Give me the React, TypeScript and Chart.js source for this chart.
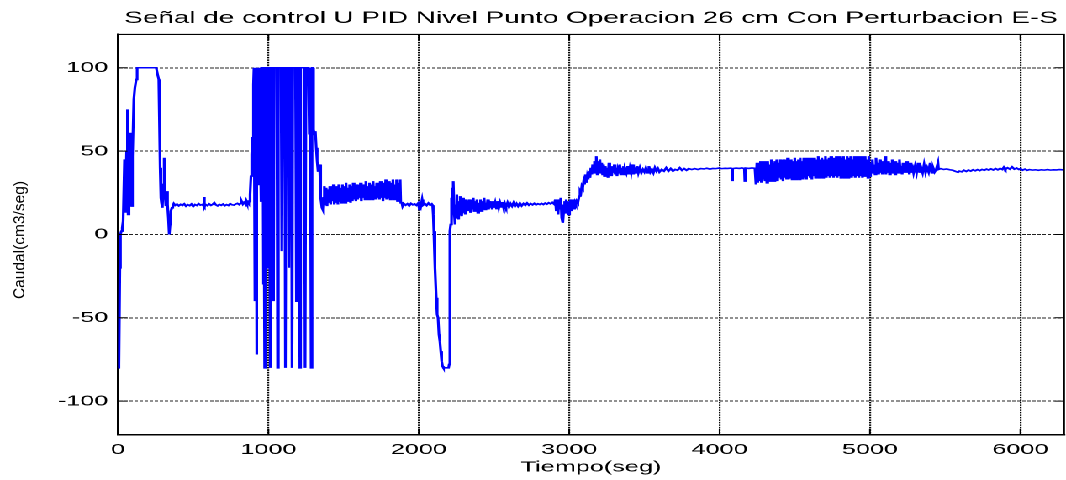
import { useEffect, useRef } from "react";
import { Chart, registerables } from "chart.js";

Chart.register(...registerables);

// ---------- text ----------
const CHART_TITLE = "Señal de control U PID Nivel Punto Operacion 26 cm Con Perturbacion E-S";
const X_TITLE = "Tiempo(seg)";
const Y_TITLE = "Caudal(cm3/seg)";

// ---------- axes ----------
const X_TICKS = [0, 1000, 2000, 3000, 4000, 5000, 6000];
const Y_TICKS = [-100, -50, 0, 50, 100];
const X_MIN = 0;
const X_MAX = 6290;
const Y_MIN = -120;
const Y_MAX = 120;

// ---------- data: [time (s), control signal U (cm3/seg)] ----------
const startUp: [number, number][] = [
  [0, -80], [4, -80], [8, -78], [12, -20], [16, 0], [22, 2], [28, 4], [34, 8], [43, 45], [47, 35], [51, 13],
  [57, 50], [61, 75], [64, 40], [67, 12], [71, 35], [75, 55], [79, 61], [82, 40], [86, 21], [91, 17], [94, 25],
  [98, 47], [105, 81], [112, 88], [121, 93], [127, 100], [254, 100], [263, 96], [271, 93], [275, 70], [280, 40],
  [285, 22], [289, 19], [293, 16], [297, 17], [301, 30], [305, 38], [309, 46], [312, 25], [316, 17], [320, 20],
  [324, 24], [327, 26], [331, 18], [335, 10], [339, 4], [342, 0], [346, 6], [350, 11], [353, 14], [358, 16],
  [364, 17], [371, 18.5],
];

const steadyA: [number, number][] = [
  [380, 17.5], [392, 18.2], [404, 17.2], [416, 18], [428, 17.4], [440, 18.3], [452, 17], [464, 17.8], [476, 17.3],
  [488, 18.2], [500, 16.8], [512, 17.9], [524, 17.4], [536, 18.4], [548, 17.6], [560, 18], [568, 17.2], [572, 22.5],
  [576, 16.5], [582, 18], [594, 17.3], [606, 18.3], [618, 17.5], [630, 18.1], [640, 19], [650, 17.8], [662, 17.2],
  [674, 18], [686, 17.5], [698, 18.2], [710, 17.3], [722, 17.9], [734, 17.4], [746, 18.4], [758, 17.8], [770, 17.6],
  [782, 18.2], [794, 18.6], [806, 17.9], [816, 18.8], [822, 19.8], [830, 18.2], [838, 19.2], [846, 18.4],
  [852, 20.2], [858, 18.7], [864, 19.5], [869, 18.8], [873, 20],
];

const saturation: [number, number][] = [
  [878, 24], [884, 35], [889, 48], [894, 58], [899, 65], [902, 90], [904, 100], [907, -10], [910, 100], [914, -40],
  [917, 100], [921, -72], [924, 100], [928, 30], [931, 100], [935, 60], [938, 100], [948, 100], [951, 20], [954, 100],
  [962, 100], [966, -30], [969, 100], [975, -80], [979, 100], [990, 100], [994, -20], [998, 100], [1006, 100],
  [1010, -80], [1014, 100], [1030, 100], [1034, -40], [1038, 100], [1056, 100], [1061, -80], [1066, 100],
  [1084, 100], [1089, -10], [1094, 100], [1108, 100], [1113, -80], [1118, 100], [1132, 100], [1136, -20],
  [1141, 100], [1152, 100], [1157, -80], [1162, 100], [1180, 100], [1186, -40], [1191, 100], [1204, 100],
  [1209, -80], [1214, 100], [1238, 100], [1244, -80], [1250, 100], [1266, 100], [1272, 60], [1278, 100],
  [1284, -80], [1290, 100], [1296, 100], [1300, 63], [1306, 60], [1312, 62], [1318, 52], [1324, 44], [1330, 38],
  [1336, 40], [1340, 42], [1345, 30], [1350, 22], [1356, 16], [1361, 15], [1366, 22],
];

const rippleA: [number, number][] = [
  [1372, 29], [1378, 18], [1384, 28], [1390, 17], [1396, 27], [1402, 19], [1408, 29], [1414, 18], [1420, 28],
  [1426, 20], [1432, 30], [1438, 18], [1444, 27], [1450, 19], [1456, 29], [1462, 18], [1468, 30], [1474, 20],
  [1480, 28], [1486, 19], [1492, 30], [1498, 21], [1504, 29], [1510, 19], [1516, 31], [1522, 20], [1528, 28],
  [1534, 21], [1540, 30], [1546, 19], [1552, 29], [1558, 20], [1564, 31], [1570, 21], [1576, 29], [1582, 20],
  [1588, 30], [1594, 21], [1600, 28], [1606, 22], [1612, 31], [1618, 20], [1624, 29], [1630, 22], [1636, 30],
  [1642, 21], [1648, 32], [1654, 22], [1660, 29], [1666, 21], [1672, 31], [1678, 22], [1684, 30], [1690, 21],
  [1696, 32], [1702, 22], [1708, 29], [1714, 21], [1720, 31], [1726, 22], [1732, 30], [1738, 21], [1744, 32],
  [1750, 22], [1756, 30], [1762, 20], [1768, 31], [1774, 22], [1780, 33], [1786, 21], [1792, 30], [1798, 22],
  [1804, 32], [1810, 21], [1816, 31], [1822, 22], [1828, 33], [1834, 21], [1840, 30], [1846, 22], [1852, 33],
  [1858, 20], [1864, 31], [1870, 21], [1876, 33], [1880, 19],
];

const steadyB: [number, number][] = [
  [1886, 19.5], [1892, 17], [1900, 18.5], [1912, 17.6], [1924, 18.4], [1936, 17.2], [1948, 18.6], [1960, 17.8],
  [1972, 18.3], [1984, 17.5], [1996, 18.8], [2004, 15], [2008, 19], [2014, 17.2], [2022, 21], [2028, 17.6],
  [2040, 18.5], [2052, 17.4], [2064, 18.8], [2076, 17.6], [2086, 18.3], [2092, 17.5],
];

const disturbance: [number, number][] = [
  [2096, 12], [2100, 2], [2105, -8], [2110, -20], [2116, -38], [2122, -48], [2128, -50], [2134, -60], [2140, -64],
  [2146, -70], [2152, -76], [2158, -79], [2164, -80], [2198, -80], [2202, -78], [2205, -30], [2208, 2], [2212, 6],
  [2216, 22], [2219, 8], [2223, 28], [2227, 12], [2231, 32], [2235, 14], [2239, 6], [2243, 18], [2247, 10],
  [2251, 24], [2255, 13], [2259, 20], [2263, 9], [2267, 19], [2271, 12], [2275, 23], [2279, 14], [2283, 21],
  [2287, 11], [2291, 19], [2295, 13], [2299, 22], [2303, 15], [2307, 20], [2311, 12], [2315, 21], [2319, 14],
];

const steadyC: [number, number][] = [
  [2326, 20], [2332, 14], [2338, 21], [2344, 13], [2350, 19], [2356, 15], [2362, 22], [2368, 14], [2374, 20],
  [2380, 15], [2386, 21], [2392, 13], [2398, 19], [2404, 16], [2410, 21], [2416, 14], [2422, 20], [2428, 16],
  [2434, 22], [2440, 15], [2446, 19], [2452, 16], [2458, 21], [2464, 15], [2470, 20], [2476, 16], [2482, 19],
  [2488, 15], [2494, 20], [2500, 16], [2508, 19], [2516, 15.5], [2524, 20], [2532, 16], [2540, 19], [2548, 16.5],
  [2556, 19.5], [2564, 16], [2572, 18.5], [2580, 16.5], [2590, 19], [2600, 16.5], [2610, 18.5], [2620, 17],
  [2630, 19], [2640, 17], [2650, 18.5], [2660, 17], [2672, 18.8], [2684, 17.2], [2696, 18.5], [2708, 17.5],
  [2720, 18.8], [2732, 17.6], [2744, 18.5], [2756, 17.8], [2768, 18.6], [2780, 17.8], [2792, 18.4], [2804, 18],
  [2816, 18.6], [2828, 18], [2840, 18.8], [2852, 18.2], [2864, 19], [2876, 18.4], [2888, 19.2], [2900, 18.2],
  [2908, 21], [2914, 14], [2920, 20], [2926, 12], [2932, 21], [2938, 15], [2944, 22], [2950, 10], [2955, 18],
  [2960, 7], [2965, 16], [2970, 20], [2975, 13], [2980, 21], [2985, 15], [2990, 20], [2995, 12], [3000, 19],
  [3005, 16], [3010, 21], [3015, 14], [3020, 20], [3025, 17], [3030, 21], [3035, 15], [3040, 19], [3045, 18],
  [3050, 20], [3055, 21],
];

const stepUp: [number, number][] = [
  [3060, 19], [3066, 23], [3072, 26], [3078, 25], [3084, 29], [3090, 28], [3096, 32], [3102, 30], [3108, 36],
  [3114, 31], [3120, 35], [3126, 33], [3132, 38], [3138, 34], [3144, 40], [3150, 36], [3156, 42], [3162, 37],
  [3168, 44], [3174, 38], [3180, 47], [3186, 36], [3192, 44], [3198, 38], [3204, 45], [3210, 37], [3216, 43],
  [3222, 36], [3228, 42], [3234, 35], [3240, 41], [3246, 36], [3252, 40], [3258, 34], [3264, 43], [3270, 36],
  [3276, 41], [3282, 35], [3288, 40], [3294, 37], [3300, 42], [3306, 36], [3312, 40], [3318, 35], [3324, 39],
  [3330, 37], [3336, 42], [3342, 36], [3348, 40], [3354, 37], [3360, 41], [3366, 36], [3372, 39], [3380, 37],
  [3388, 41], [3396, 36], [3404, 40], [3412, 37], [3420, 42], [3428, 36], [3436, 39], [3444, 37], [3452, 41],
  [3460, 37], [3470, 40], [3480, 37], [3490, 39], [3500, 37.5], [3510, 40], [3520, 37], [3530, 41], [3540, 37.5],
  [3550, 39], [3560, 37], [3570, 40], [3580, 38], [3590, 39.5], [3600, 37.5], [3615, 39], [3630, 38], [3645, 40],
  [3660, 38], [3675, 39.5], [3690, 38], [3705, 39], [3720, 38.5], [3735, 40], [3750, 38.5], [3765, 39.5],
  [3780, 38.5], [3795, 39.5],
];

const steadyD: [number, number][] = [
  [3815, 39], [3835, 39.5], [3855, 39], [3875, 39.5], [3895, 39.3], [3915, 39.7], [3935, 39.2], [3955, 39.6],
  [3975, 39.5], [3995, 39.8], [4015, 39.5], [4035, 39.7], [4055, 39.6], [4075, 39.8], [4082, 39.5], [4085, 32],
  [4088, 39.5], [4110, 39.8], [4130, 39.6], [4150, 39.9], [4165, 39.5], [4168, 32], [4172, 38], [4175, 39.8],
  [4195, 39.6], [4215, 39.9], [4235, 39.7],
];

const rippleB: [number, number][] = [
  [4242, 30], [4248, 43], [4254, 31], [4260, 42], [4266, 32], [4272, 44], [4278, 31], [4284, 42], [4290, 33],
  [4296, 44], [4302, 32], [4308, 43], [4314, 31], [4320, 44], [4326, 33], [4332, 42], [4338, 32], [4344, 45],
  [4350, 33], [4356, 43], [4362, 32], [4368, 44], [4374, 33], [4380, 45], [4386, 32], [4392, 43], [4398, 34],
  [4404, 45], [4410, 33], [4416, 44], [4422, 32], [4428, 45], [4434, 34], [4440, 43], [4446, 33], [4452, 46],
  [4458, 33], [4464, 44], [4470, 34], [4476, 45], [4482, 33], [4488, 44], [4494, 34], [4500, 46], [4506, 33],
  [4512, 44], [4518, 34], [4524, 45], [4530, 33], [4536, 46], [4542, 34], [4548, 44], [4554, 33], [4560, 46],
  [4566, 34], [4572, 45], [4578, 33], [4584, 46], [4590, 35], [4596, 44], [4602, 34], [4608, 46], [4614, 33],
  [4620, 45], [4626, 35], [4632, 46], [4638, 34], [4644, 45], [4650, 35], [4656, 47], [4662, 34], [4668, 45],
  [4674, 35], [4680, 46], [4686, 34], [4692, 45], [4698, 35], [4704, 47], [4710, 34], [4716, 45], [4722, 35],
  [4728, 46], [4734, 34], [4740, 47], [4746, 35], [4752, 45], [4758, 34], [4764, 46], [4770, 35], [4776, 47],
  [4782, 34], [4788, 45], [4794, 35], [4800, 47], [4806, 34], [4812, 46], [4818, 35], [4824, 47], [4830, 34],
  [4836, 45], [4842, 35], [4848, 47], [4854, 34], [4860, 46], [4866, 35], [4872, 47], [4878, 34], [4884, 45],
  [4890, 35], [4896, 47], [4902, 34], [4908, 46], [4914, 35], [4920, 47], [4926, 34], [4932, 45], [4938, 35],
  [4944, 47], [4950, 34], [4956, 46], [4962, 35], [4968, 47], [4974, 35], [4980, 45], [4986, 34], [4992, 47],
  [4998, 35],
];

const rippleC: [number, number][] = [
  [5004, 43], [5010, 37], [5016, 45], [5022, 37], [5028, 42], [5034, 36], [5040, 46], [5046, 37], [5052, 43],
  [5058, 36], [5064, 45], [5070, 37], [5076, 42], [5082, 36], [5088, 44], [5094, 37], [5100, 47], [5106, 36],
  [5112, 42], [5118, 37], [5124, 44], [5130, 36], [5136, 43], [5142, 37], [5148, 45], [5154, 37], [5160, 42],
  [5166, 36], [5172, 44], [5178, 37], [5184, 43], [5190, 37], [5196, 45], [5202, 37], [5208, 41], [5214, 36],
  [5220, 43], [5226, 37], [5232, 42], [5238, 37], [5244, 44], [5250, 37], [5256, 41], [5262, 36], [5268, 43],
  [5274, 37], [5280, 42], [5290, 37], [5300, 41], [5310, 37], [5320, 43], [5330, 37], [5340, 40], [5350, 37],
  [5360, 42], [5370, 37], [5380, 40], [5390, 37.5], [5400, 43], [5410, 37], [5420, 40], [5430, 37.5], [5440, 39],
];

const tail: [number, number][] = [
  [5452, 43], [5456, 39], [5470, 39.5], [5490, 39], [5510, 39.3], [5530, 38.8], [5550, 38.5], [5570, 37.8],
  [5585, 37.3], [5595, 38], [5610, 37.6], [5625, 38.5], [5640, 37.8], [5655, 38.6], [5670, 38], [5685, 38.8],
  [5700, 38.2], [5715, 38.9], [5730, 38.3], [5745, 39], [5760, 38.5], [5775, 39.2], [5790, 38.6], [5805, 39.3],
  [5820, 38.7], [5835, 39.5], [5850, 38.8], [5865, 39.6], [5880, 39], [5890, 40.3], [5900, 39], [5915, 40],
  [5930, 39.2], [5945, 40.5], [5960, 39.2], [5975, 39.8], [5990, 39], [6000, 39.5], [6015, 38.6], [6030, 39.2],
  [6045, 38.5], [6060, 38.9], [6080, 38.6], [6100, 38.8], [6120, 38.5], [6140, 38.8], [6160, 38.6], [6180, 38.9],
  [6200, 38.6], [6220, 38.8], [6240, 38.7], [6260, 38.9], [6280, 38.8], [6290, 38.8],
];

const SEGMENTS = [startUp, steadyA, saturation, rippleA, steadyB, disturbance, steadyC, stepUp, steadyD, rippleB, rippleC, tail];

// ---------- layout (canvas is drawn narrow, then stretched horizontally like the original figure) ----------
const CANVAS_W = 634;
const CANVAS_H = 480;
const STRETCH = 1066 / CANVAS_W;
const FONT = '"Liberation Sans", Arial, Helvetica, sans-serif';

const framePlugin = {
  id: "matlabFrame",
  afterDraw(chart: any) {
    const { ctx, chartArea: a, scales } = chart;
    const xs = scales.x;
    const ys = scales.y;
    ctx.save();
    ctx.strokeStyle = "#000";
    ctx.lineWidth = 1.2;
    ctx.beginPath();
    ctx.moveTo(a.left, a.top);
    ctx.lineTo(a.right, a.top);
    ctx.lineTo(a.right, a.bottom);
    ctx.stroke();
    const tl = 5.6;
    ctx.lineWidth = 1;
    ctx.beginPath();
    for (const v of X_TICKS) {
      const px = xs.getPixelForValue(v);
      ctx.moveTo(px, a.bottom);
      ctx.lineTo(px, a.bottom - tl);
      ctx.moveTo(px, a.top);
      ctx.lineTo(px, a.top + tl);
    }
    for (const v of Y_TICKS) {
      const py = ys.getPixelForValue(v);
      ctx.moveTo(a.left, py);
      ctx.lineTo(a.left + tl, py);
      ctx.moveTo(a.right, py);
      ctx.lineTo(a.right - tl, py);
    }
    ctx.stroke();
    // vertical axis title, drawn un-stretched
    ctx.translate(20 / STRETCH, 240);
    ctx.rotate(-Math.PI / 2);
    ctx.scale(1, 1 / STRETCH);
    ctx.font = `15.5px ${FONT}`;
    ctx.fillStyle = "#000";
    ctx.textAlign = "center";
    ctx.textBaseline = "middle";
    ctx.fillText(Y_TITLE, 0, 0);
    ctx.restore();
  },
};

export default function App() {
  const canvasRef = useRef<HTMLCanvasElement | null>(null);

  useEffect(() => {
    const canvas = canvasRef.current;
    if (!canvas) return;
    const points = SEGMENTS.flat().map(([t, u]) => ({ x: t, y: u }));
    const chart = new Chart(canvas, {
      type: "line",
      data: {
        datasets: [
          {
            label: "U",
            data: points,
            borderColor: "#0000ff",
            borderWidth: 1.6,
            pointRadius: 0,
            tension: 0,
            fill: false,
          },
        ],
      },
      options: {
        animation: false,
        responsive: true,
        maintainAspectRatio: false,
        devicePixelRatio: 2,
        events: [],
        layout: { padding: { left: 0, right: 1.2, top: 0, bottom: 0 } },
        plugins: {
          legend: { display: false },
          tooltip: { enabled: false },
          title: {
            display: true,
            text: CHART_TITLE,
            fullSize: false,
            align: "center",
            color: "#000",
            font: { family: FONT, size: 16.6, weight: "normal" },
            padding: { top: 8.3, bottom: 6.2 },
          },
        },
        scales: {
          x: {
            type: "linear",
            min: X_MIN,
            max: X_MAX,
            afterBuildTicks: (s: any) => {
              s.ticks = X_TICKS.map((v) => ({ value: v }));
            },
            afterFit: (s: any) => {
              s.height = 45.5;
            },
            ticks: {
              autoSkip: false,
              maxRotation: 0,
              color: "#000",
              padding: 6.5,
              font: { family: FONT, size: 15 },
              callback: (v: any) => String(v),
            },
            grid: { color: "#000", lineWidth: 1.1, drawTicks: false },
            border: { display: true, color: "#000", width: 1.5, dash: [1.5, 1] },
            title: {
              display: true,
              text: X_TITLE,
              color: "#000",
              font: { family: FONT, size: 15 },
              padding: { top: 0, bottom: 3.5 },
            },
          },
          y: {
            type: "linear",
            min: Y_MIN,
            max: Y_MAX,
            afterBuildTicks: (s: any) => {
              s.ticks = Y_TICKS.map((v) => ({ value: v }));
            },
            afterFit: (s: any) => {
              s.width = 70.2;
            },
            ticks: {
              color: "#000",
              padding: 5.8,
              font: { family: FONT, size: 15 },
              callback: (v: any) => String(v),
            },
            grid: { color: "#222", lineWidth: 1, drawTicks: false },
            border: { display: true, color: "#000", width: 1.5, dash: [2, 1] },
          },
        },
      },
      plugins: [framePlugin],
    });
    return () => chart.destroy();
  }, []);

  return (
    <div
      style={{
        position: "fixed",
        left: 0,
        top: 0,
        width: CANVAS_W,
        height: CANVAS_H,
        transform: `scaleX(${STRETCH})`,
        transformOrigin: "0 0",
        background: "#fff",
      }}
    >
      <canvas ref={canvasRef} />
    </div>
  );
}
